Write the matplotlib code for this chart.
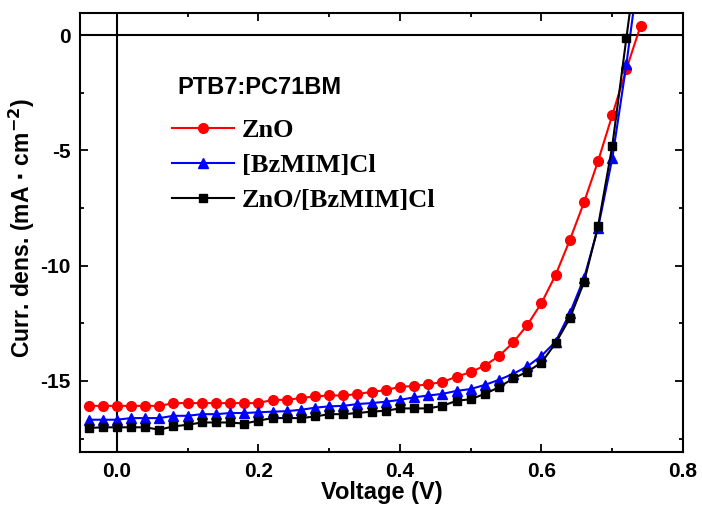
import numpy as np
import matplotlib
matplotlib.use('Agg')
import matplotlib.pyplot as plt
from matplotlib.ticker import MultipleLocator, FormatStrFormatter

plt.rcParams['font.family'] = ['Liberation Sans', 'DejaVu Sans']
plt.rcParams['font.weight'] = 'bold'
plt.rcParams['mathtext.default'] = 'bf'
plt.rcParams['axes.unicode_minus'] = False

voltage = np.round(np.arange(-0.04, 0.741, 0.02), 2)

j_zno = [-16.08, -16.08, -16.08, -16.08, -16.08, -16.08, -15.96, -15.96, -15.96, -15.96,
         -15.96, -15.96, -15.96, -15.82, -15.82, -15.74, -15.67, -15.63, -15.63, -15.57,
         -15.47, -15.40, -15.25, -15.22, -15.14, -15.05, -14.81, -14.62, -14.33, -13.92,
         -13.33, -12.57, -11.62, -10.40, -8.89, -7.26, -5.46, -3.47, -1.47, 0.40]

j_bz = [-16.68, -16.68, -16.68, -16.61, -16.61, -16.61, -16.51, -16.51, -16.44, -16.44,
        -16.39, -16.39, -16.36, -16.33, -16.31, -16.25, -16.16, -16.10, -16.08, -16.00,
        -15.96, -15.90, -15.82, -15.71, -15.63, -15.56, -15.43, -15.35, -15.17, -14.95,
        -14.69, -14.37, -13.91, -13.29, -12.06, -10.55, -8.35, -5.35, -1.26, 3.4]

j_both = [-17.04, -17.01, -17.01, -17.01, -17.01, -17.11, -16.97, -16.90, -16.80, -16.80,
          -16.80, -16.85, -16.72, -16.61, -16.61, -16.61, -16.54, -16.44, -16.44, -16.39,
          -16.33, -16.29, -16.19, -16.19, -16.19, -16.08, -15.86, -15.79, -15.56, -15.27,
          -14.89, -14.60, -14.20, -13.36, -12.28, -10.72, -8.28, -4.81, -0.11, 4.5]

labels = ['ZnO', '[BzMIM]Cl', 'ZnO/[BzMIM]Cl']

fig = plt.figure(figsize=(7.02, 5.09), dpi=100)
ax = fig.add_axes([0.114, 0.112, 0.859, 0.863])

ax.axhline(0, color='k', lw=1.5, zorder=1)
ax.axvline(0, color='k', lw=1.5, zorder=1)

ax.plot(voltage, j_zno, '-o', color='red', lw=1.5, ms=7, label=labels[0])
ax.plot(voltage, j_bz, '-^', color='blue', lw=1.5, ms=7, label=labels[1])
ax.plot(voltage, j_both, '-s', color='black', lw=1.5, ms=5.5, label=labels[2])

ax.set_xlim(-0.052, 0.8)
ax.set_ylim(-18.08, 0.97)
ax.xaxis.set_major_locator(MultipleLocator(0.2))
ax.xaxis.set_minor_locator(MultipleLocator(0.1))
ax.yaxis.set_major_locator(MultipleLocator(5))
ax.yaxis.set_minor_locator(MultipleLocator(2.5))
ax.xaxis.set_major_formatter(FormatStrFormatter('%.1f'))
ax.tick_params(which='both', direction='in', top=True, right=True, width=1.3)
ax.tick_params(which='major', length=6, labelsize=15, pad=7)
ax.tick_params(which='minor', length=3)
for s in ax.spines.values():
    s.set_linewidth(1.5)

ax.set_xlabel('Voltage (V)', fontsize=17, fontweight='bold', labelpad=0)
ax.set_ylabel(r'Curr. dens. (mA $\cdot$ cm$^{-2}$)', fontsize=16.5, fontweight='bold')
ax.yaxis.set_label_coords(-0.071, 0.51)

ax.text(0.161, 0.815, 'PTB7:PC71BM', transform=ax.transAxes, fontsize=17, fontweight='bold')
ax.legend(loc='upper left', bbox_to_anchor=(0.152, 0.758), frameon=False,
          prop={'family': 'Liberation Serif', 'weight': 'bold', 'size': 19},
          handlelength=2.35, handletextpad=0.3, labelspacing=0.43,
          borderaxespad=0, borderpad=0)

fig.savefig('out.png', dpi=100)
